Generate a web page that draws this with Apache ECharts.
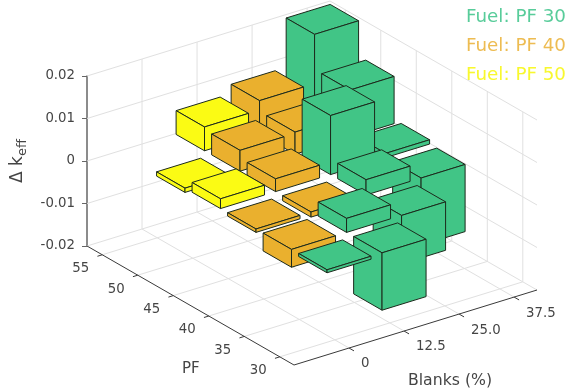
<!DOCTYPE html>
<html>
<head>
<meta charset="utf-8">
<title>Delta k_eff</title>
<script src="https://cdn.jsdelivr.net/npm/echarts@6/dist/echarts.min.js"></script>
<style>
html, body { margin: 0; padding: 0; background: #fff; }
#chart { width: 571px; height: 392px; }
</style>
</head>
<body>
<div id="chart"></div>
<script>
// data
const fuel30Blanks = [0, 12.5, 12.5, 25, 25, 37.5, 25, 37.5, 37.5, 37.5];
const fuel30Pf = [30, 30, 35, 35, 40, 40, 45, 45, 50, 55];
const fuel30Delta = [-0.0007, -0.0135, 0.0033, -0.0114, 0.0036, -0.0158, 0.0139, 0.001, 0.0111, 0.0194];

const fuel40Blanks = [0, 0, 12.5, 12.5, 12.5, 25, 25];
const fuel40Pf = [35, 40, 40, 45, 50, 50, 55];
const fuel40Delta = [-0.0042, -0.0008, -0.0012, 0.003, 0.0049, 0.0052, 0.0078];

const fuel50Blanks = [0, 0, 12.5];
const fuel50Pf = [45, 50, 55];
const fuel50Delta = [0.0023, -0.001, 0.0056];

const blanksTicks = [0, 12.5, 25, 37.5];
const blanksTickLabels = ['0', '12.5', '25.0', '37.5'];
const pfTicks = [30, 35, 40, 45, 50, 55];
const deltaTicks = [-0.02, -0.01, 0, 0.01, 0.02];

const blanksMin = -12.5, blanksMax = 42.7;
const pfMin = 28, pfMax = 57.15;
const deltaMin = -0.02, deltaMax = 0.02;
const barBlanksHalf = 5, barPfHalf = 2;

const GREEN = '#41C586', ORANGE = '#EAB02E', YELLOW = '#FBFB14';
const EDGE = '#1c2a1c', GRID = '#e0e0e0', AXIS = '#3a3a3a', LABEL = '#454545';
const BLANKS_SLOPE = 75 / 243, PF_SLOPE = 119 / 207;

const chart = echarts.init(document.getElementById('chart'));

// 把三维坐标投影到屏幕: 用两个隐藏的轴做比例尺, 再加上斜切
function project(b, f, z) {
    const p = chart.convertToPixel({ gridIndex: 0 }, [b, z]);
    const left = chart.convertToPixel({ gridIndex: 0 }, [blanksMin, z])[0];
    const pfX = chart.convertToPixel({ xAxisIndex: 1 }, f);
    const dx = pfX - left;
    return [p[0] + dx, p[1] - (p[0] - left) * BLANKS_SLOPE + dx * PF_SLOPE];
}

function renderBar(color) {
    return function (params, api) {
        const b = api.value(0), f = api.value(1), v = api.value(2);
        const top = Math.max(0, v), bot = Math.min(0, v);
        const b0 = b - barBlanksHalf, b1 = b + barBlanksHalf;
        const f0 = f - barPfHalf, f1 = f + barPfHalf;
        const faces = [
            [[b0, f1, top], [b1, f1, top], [b1, f0, top], [b0, f0, top]],
            [[b0, f1, top], [b0, f0, top], [b0, f0, bot], [b0, f1, bot]],
            [[b0, f0, top], [b1, f0, top], [b1, f0, bot], [b0, f0, bot]]
        ];
        // 后面的先画
        const z2 = (60 - f) * 100 + (50 - b);
        return {
            type: 'group',
            children: faces.map(face => ({
                type: 'polygon',
                z2: z2,
                shape: { points: face.map(c => project(c[0], c[1], c[2])) },
                style: { fill: color, stroke: EDGE, lineWidth: 1, lineJoin: 'round' }
            }))
        };
    };
}

function line(a, c, stroke, width) {
    return {
        type: 'line',
        z2: width ? 1 : 0,
        shape: { x1: a[0], y1: a[1], x2: c[0], y2: c[1] },
        style: { stroke: stroke, lineWidth: width || 1 }
    };
}

function label(text, pos, align) {
    return {
        type: 'text',
        z2: 1,
        x: pos[0],
        y: pos[1],
        style: {
            text: text, fill: LABEL, fontFamily: 'DejaVu Sans', fontSize: 13.3,
            align: align, verticalAlign: 'middle'
        }
    };
}

function renderFrame() {
    const out = [];
    // 墙面和地面的网格
    deltaTicks.forEach(z => {
        out.push(line(project(blanksMin, pfMax, z), project(blanksMax, pfMax, z), GRID));
        out.push(line(project(blanksMax, pfMax, z), project(blanksMax, pfMin, z), GRID));
    });
    blanksTicks.forEach(b => {
        out.push(line(project(b, pfMax, deltaMin), project(b, pfMax, deltaMax), GRID));
        out.push(line(project(b, pfMin, deltaMin), project(b, pfMax, deltaMin), GRID));
    });
    pfTicks.forEach(f => {
        out.push(line(project(blanksMax, f, deltaMin), project(blanksMax, f, deltaMax), GRID));
        out.push(line(project(blanksMin, f, deltaMin), project(blanksMax, f, deltaMin), GRID));
    });
    // PF 和 Blanks 两条轴
    out.push(line(project(blanksMin, pfMax, deltaMin), project(blanksMin, pfMin, deltaMin), AXIS, 1));
    out.push(line(project(blanksMin, pfMin, deltaMin), project(blanksMax, pfMin, deltaMin), AXIS, 1));
    pfTicks.forEach(f => {
        const p = project(blanksMin, f, deltaMin);
        out.push(line(p, project(blanksMin - 1.1, f, deltaMin), AXIS, 1));
        out.push(label(String(f), [p[0] - 21.5, p[1] + 14], 'center'));
    });
    blanksTicks.forEach((b, i) => {
        const p = project(b, pfMin, deltaMin);
        out.push(line(p, project(b, pfMin - 0.7, deltaMin), AXIS, 1));
        out.push(label(blanksTickLabels[i], [p[0] + 12, p[1] + 16], 'left'));
    });
    return { type: 'group', children: out };
}

function barData(blanks, pf, delta) {
    return blanks.map((b, i) => [b, pf[i], delta[i]]);
}

function barSeries(name, color, data) {
    return {
        name: name,
        type: 'custom',
        xAxisIndex: 0,
        yAxisIndex: 0,
        encode: { x: 0, y: 2 },
        silent: true,
        itemStyle: { color: color },
        data: data,
        renderItem: renderBar(color)
    };
}

chart.setOption({
    animation: false,
    backgroundColor: '#fff',
    textStyle: { fontFamily: 'DejaVu Sans' },
    tooltip: { show: false },
    grid: [
        { left: 87, top: 76, width: 243, height: 170 },
        { left: 87, top: 76, width: 207, height: 170 }
    ],
    xAxis: [
        { type: 'value', gridIndex: 0, min: blanksMin, max: blanksMax, show: false },
        { type: 'value', gridIndex: 1, min: pfMin, max: pfMax, inverse: true, show: false }
    ],
    yAxis: [
        {
            type: 'value',
            gridIndex: 0,
            min: deltaMin,
            max: deltaMax,
            interval: 0.01,
            z: 1,
            name: 'Δ k{sub|eff}',
            nameLocation: 'middle',
            nameRotate: 90,
            nameGap: 58,
            nameTextStyle: {
                color: LABEL,
                fontFamily: 'DejaVu Sans',
                fontSize: 17,
                rich: { sub: { fontSize: 13, fontFamily: 'DejaVu Sans', color: LABEL, padding: [9, 0, 0, 0] } }
            },
            axisLine: { show: true, onZero: false, lineStyle: { color: '#666', width: 1.5 } },
            axisTick: { show: true, length: 5, lineStyle: { color: '#666' } },
            axisLabel: {
                color: LABEL,
                fontFamily: 'DejaVu Sans',
                fontSize: 13.3,
                margin: 12,
                formatter: v => (Math.abs(v) < 1e-9 ? '0' : v.toFixed(2))
            },
            splitLine: { show: false }
        },
        { type: 'value', gridIndex: 1, min: deltaMin, max: deltaMax, show: false }
    ],
    legend: {
        orient: 'vertical',
        right: 0,
        top: 3,
        icon: 'none',
        itemWidth: 0,
        itemHeight: 14,
        itemGap: 11,
        selectedMode: false,
        textStyle: { fontFamily: 'DejaVu Sans', fontSize: 18.3, padding: 0 },
        data: [
            { name: 'Fuel: PF 30', textStyle: { color: '#58CC9A' } },
            { name: 'Fuel: PF 40', textStyle: { color: '#EDBC52' } },
            { name: 'Fuel: PF 50', textStyle: { color: '#F8F82E' } }
        ]
    },
    graphic: [
        { type: 'text', x: 182, y: 369.5, style: { text: 'PF', fill: LABEL, font: '15px "DejaVu Sans"', verticalAlign: 'middle' } },
        { type: 'text', x: 408, y: 380.5, style: { text: 'Blanks (%)', fill: LABEL, font: '15.7px "DejaVu Sans"', verticalAlign: 'middle' } }
    ],
    series: [
        {
            type: 'custom',
            name: 'frame',
            silent: true,
            data: [[0, 0]],
            renderItem: renderFrame
        },
        barSeries('Fuel: PF 30', GREEN, barData(fuel30Blanks, fuel30Pf, fuel30Delta)),
        barSeries('Fuel: PF 40', ORANGE, barData(fuel40Blanks, fuel40Pf, fuel40Delta)),
        barSeries('Fuel: PF 50', YELLOW, barData(fuel50Blanks, fuel50Pf, fuel50Delta))
    ]
});
</script>
</body>
</html>
